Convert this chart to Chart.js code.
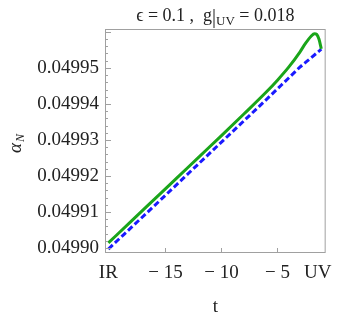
<!DOCTYPE html>
<html>
<head>
<meta charset="utf-8">
<script src="https://cdn.jsdelivr.net/npm/chart.js@4.4.1/dist/chart.umd.min.js"></script>
<style>
  html, body { margin: 0; padding: 0; background: #fff; }
  #wrap { width: 341px; height: 317px; }
</style>
</head>
<body>
<div id="wrap"><canvas id="c" width="341" height="317"></canvas></div>
<script>
// values
const tGreen = [-20.1, -18, -16, -14, -12, -10, -8, -6, -5, -4, -3, -2.5, -2.0, -1.7, -1.5, -1.3, -1.09];
const alphaGreen = [0.0499014, 0.0499076, 0.0499135, 0.0499194, 0.0499253, 0.0499312, 0.0499372, 0.0499433,
  0.0499466, 0.0499502, 0.0499544, 0.0499568, 0.0499588, 0.0499595, 0.0499593, 0.0499580, 0.0499553];

const tBlue = [-20.1, -16, -12, -8, -6, -4, -3, -2, -1.09];
const alphaBlue = [0.0498997, 0.0499117, 0.0499235, 0.0499353, 0.0499412, 0.0499472, 0.0499502, 0.0499528, 0.0499552];

const xTickValues = [-20.1, -15, -10, -5, -1.4];
const xTickLabels = ['IR', '\u2212 15', '\u2212 10', '\u2212 5', 'UV'];
const xMarks = [-15, -10, -5];
const yTickValues = [0.04990, 0.04991, 0.04992, 0.04993, 0.04994, 0.04995];
const yMinorStep = 0.000002;

const FONT = '"Liberation Serif", "DejaVu Serif", serif';
const frameColor = '#a0a0a0';

const toPts = (xs, ys) => xs.map((x, i) => ({ x: x, y: ys[i] }));

// frame + inward ticks, mathematica style
const framePlugin = {
  id: 'frame',
  afterDatasetsDraw(chart) {
    const { ctx, chartArea: a, scales } = chart;
    const xs = scales.x, ys = scales.y;
    ctx.save();
    ctx.strokeStyle = frameColor;
    ctx.lineWidth = 1;
    ctx.strokeRect(a.left + 0.5, a.top + 0.5, a.right - a.left - 1, a.bottom - a.top - 1);
    ctx.beginPath();
    xMarks.forEach(v => {
      const px = Math.round(xs.getPixelForValue(v)) + 0.5;
      ctx.moveTo(px, a.bottom);
      ctx.lineTo(px, a.bottom - 5);
    });
    for (let i = -2; i <= 32; i++) {
      const v = yTickValues[0] + i * yMinorStep;
      if (v < ys.min || v > ys.max) continue;
      const py = Math.round(ys.getPixelForValue(v)) + 0.5;
      const len = (i % 5 === 0) ? 6 : 3;
      ctx.moveTo(a.left, py);
      ctx.lineTo(a.left + len, py);
    }
    ctx.stroke();
    ctx.restore();
  }
};

// title and y label with sub/subscript pieces
const textPlugin = {
  id: 'texts',
  afterDraw(chart) {
    const { ctx, chartArea: a } = chart;
    ctx.save();
    ctx.fillStyle = '#222';
    ctx.textBaseline = 'alphabetic';
    const big = '18px ' + FONT, small = '13px ' + FONT;
    const parts = [
      { t: '\u03f5 = 0.1 ,  g', f: big, dy: 0 },
      { t: '|', f: '20px ' + FONT, dy: 2 },
      { t: 'UV', f: small, dy: 4 },
      { t: ' = 0.018', f: big, dy: 0 }
    ];
    let total = 0;
    parts.forEach(p => { ctx.font = p.f; p.w = ctx.measureText(p.t).width; total += p.w; });
    let x = (a.left + a.right) / 2 - total / 2;
    const base = 21;
    parts.forEach(p => { ctx.font = p.f; ctx.fillText(p.t, x, base + p.dy); x += p.w; });

    // y axis label alpha_N
    ctx.translate(21, (a.top + a.bottom) / 2 + 3);
    ctx.rotate(-Math.PI / 2);
    ctx.font = 'italic 19px ' + FONT;
    const wa = ctx.measureText('\u03b1').width;
    ctx.font = 'italic 12px ' + FONT;
    const wn = ctx.measureText('N').width;
    const x0 = -(wa + wn) / 2;
    ctx.font = 'italic 19px ' + FONT;
    ctx.fillText('\u03b1', x0, 0);
    ctx.font = 'italic 12px ' + FONT;
    ctx.fillText('N', x0 + wa + 1, 3);
    ctx.restore();
  }
};

new Chart(document.getElementById('c'), {
  type: 'scatter',
  data: {
    datasets: [
      {
        data: toPts(tGreen, alphaGreen),
        showLine: true,
        borderColor: '#1aa51a',
        borderWidth: 3,
        pointRadius: 0,
        cubicInterpolationMode: 'monotone'
      },
      {
        data: toPts(tBlue, alphaBlue),
        showLine: true,
        borderColor: '#1a1aff',
        borderWidth: 3,
        borderDash: [6, 3],
        pointRadius: 0,
        cubicInterpolationMode: 'monotone'
      }
    ]
  },
  options: {
    responsive: false,
    animation: false,
    layout: { padding: { top: 29, right: 13, left: 0, bottom: 0 } },
    plugins: { legend: { display: false }, tooltip: { enabled: false } },
    scales: {
      x: {
        type: 'linear',
        min: -20.4,
        max: -0.7,
        grid: { display: false, drawTicks: false },
        border: { display: false },
        afterBuildTicks: s => { s.ticks = xTickValues.map(v => ({ value: v })); },
        afterFit: s => { s.height = 64; },
        ticks: {
          autoSkip: false,
          maxRotation: 0,
          padding: 9,
          color: '#222',
          font: { family: FONT, size: 19 },
          callback: (v, i) => xTickLabels[i]
        },
        title: {
          display: true,
          text: 't',
          color: '#222',
          font: { family: FONT, size: 19, lineHeight: 1 },
          padding: { top: 0, bottom: 0 }
        }
      },
      y: {
        type: 'linear',
        min: 0.0498986,
        max: 0.0499608,
        grid: { display: false, drawTicks: false },
        border: { display: false },
        afterBuildTicks: s => { s.ticks = yTickValues.map(v => ({ value: v })); },
        afterFit: s => { s.width = 105; },
        ticks: {
          autoSkip: false,
          padding: 6,
          color: '#222',
          font: { family: FONT, size: 19 },
          callback: v => v.toFixed(5)
        }
      }
    }
  },
  plugins: [framePlugin, textPlugin]
});
</script>
</body>
</html>
